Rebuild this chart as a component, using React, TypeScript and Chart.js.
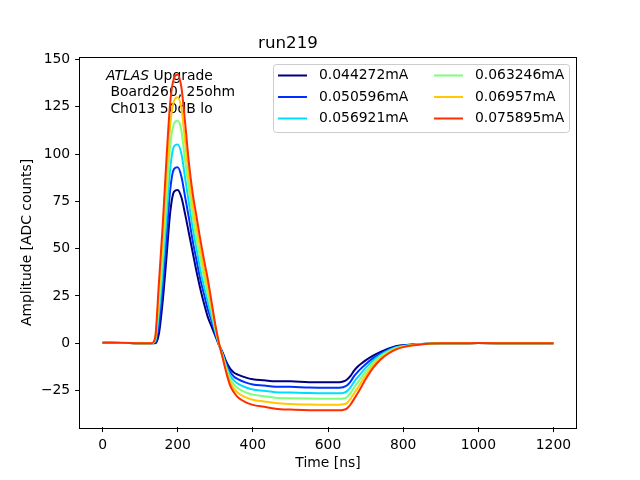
import { useEffect, useRef } from 'react';
import { Chart, registerables } from 'chart.js';
Chart.register(...registerables);

// sample times [ns]
const times = [0, 50, 100, 130, 140, 150, 160, 170, 180, 190, 200, 210, 220, 230, 240, 250, 260, 270, 280, 290, 300, 310, 320, 330, 340, 350, 360, 380, 400, 430, 460, 500, 550, 600, 630, 640, 650, 660, 670, 680, 690, 700, 720, 740, 760, 780, 800, 850, 900, 950, 1000, 1100, 1200];

const currents = ['0.044272mA', '0.050596mA', '0.056921mA', '0.063246mA', '0.06957mA', '0.075895mA'];

const amp044 = [0.3, 0.2, 0, 0, 0, 5, 22, 45, 69, 80, 81, 77, 68, 58, 48, 38, 29, 21, 14, 9, 4, -1, -5, -10, -13.5, -15.5, -16.5, -18, -19, -19.5, -20, -20, -20.5, -20.5, -20.5, -20.2, -19.2, -17.2, -14.3, -12.1, -10.5, -9, -6.5, -4.5, -2.8, -1.5, -1, -0.3, 0, 0, 0.2, 0, 0];
const amp051 = [0.3, 0.2, 0, 0, 0.5, 10, 30, 55, 81, 92, 93, 88, 77, 66, 54, 44, 34, 26, 18, 12, 5, -0.8, -5.6, -11.2, -15.3, -17.6, -18.9, -20.6, -21.7, -22.3, -22.9, -23, -23.3, -23.4, -23.4, -23.2, -22.3, -20.2, -17.2, -14.9, -12.9, -11, -7.8, -5.3, -3.3, -1.9, -1.2, -0.3, 0, 0, 0.2, 0, 0];
const amp057 = [0.3, 0.2, 0, 0, 1, 16, 38, 66, 92, 104, 105, 100, 87, 74, 61, 50, 39, 30, 22, 14, 6.5, -0.6, -6.2, -12.4, -17.1, -19.7, -21.3, -23.2, -24.4, -25.1, -25.8, -26, -26.3, -26.4, -26.4, -26.2, -25.4, -23.2, -20.2, -17.7, -15.3, -13, -9.1, -6.1, -3.9, -2.2, -1.4, -0.4, 0, 0, 0.2, 0, 0];
const amp063 = [0.3, 0.2, 0, 0, 2, 21, 46, 76, 104, 116, 117.5, 112, 96, 81, 67, 55, 45, 35, 26, 17, 7.5, -0.4, -6.8, -13.6, -18.9, -21.8, -23.7, -25.8, -27.1, -27.9, -28.7, -29, -29.2, -29.3, -29.3, -29.2, -28.5, -26.2, -23.2, -20.5, -17.7, -15, -10.4, -6.9, -4.4, -2.6, -1.6, -0.4, 0, 0, 0.2, 0, 0];
const amp070 = [0.3, 0.2, 0, 0, 2.5, 27, 54, 87, 115, 128, 130, 124, 106, 88, 73, 61, 50, 39, 30, 19, 9, -0.2, -7.4, -14.8, -20.7, -23.9, -26.1, -28.4, -29.8, -30.7, -31.5, -32, -32.3, -32.4, -32.4, -32.2, -31.6, -29.3, -26.2, -23.3, -20.1, -17, -11.7, -7.7, -5, -2.9, -1.8, -0.5, 0, 0, 0.2, 0, 0];
const amp076 = [0.3, 0.3, 0, 0, 3, 32, 62, 97, 127, 140, 142, 135, 116, 95, 79, 67, 55, 44, 34, 22, 10, 0, -8, -16, -22.5, -26, -28.5, -31, -32.5, -33.5, -34.5, -35, -35.3, -35.4, -35.4, -35.2, -34.5, -32.3, -29.2, -26, -22.5, -19, -13, -8.5, -5.5, -3.3, -2, -0.5, 0, 0, 0.2, 0, 0];

const series = [amp044, amp051, amp057, amp063, amp070, amp076];
const colors = ['#00007f', '#0030ff', '#00dcfe', '#7dff7a', '#ffc800', '#ff2e00'];

const xTicks = [0, 200, 400, 600, 800, 1000, 1200];
const yTicks = [-25, 0, 25, 50, 75, 100, 125, 150];

const FONT = "'DejaVu Sans', sans-serif";
const FS = 13.9;

const fmt = (v: number) => (v < 0 ? '\u2212' + Math.abs(v) : String(v));

// ATLAS label under the curves
const atlasLabel = {
  id: 'atlasLabel',
  beforeDatasetsDraw(chart: Chart) {
    const ctx = chart.ctx;
    ctx.save();
    ctx.fillStyle = '#000';
    ctx.textBaseline = 'alphabetic';
    ctx.textAlign = 'left';
    ctx.font = `italic ${FS}px ${FONT}`;
    ctx.fillText('ATLAS', 106, 79.5);
    const w = ctx.measureText('ATLAS').width;
    ctx.font = `${FS}px ${FONT}`;
    ctx.fillText(' Upgrade', 106 + w, 79.5);
    ctx.fillText(' Board260, 25ohm', 106, 96.2);
    ctx.fillText(' Ch013 50dB lo', 106, 112.9);
    ctx.restore();
  },
};

// frame + two-column legend like matplotlib
const frameLegend = {
  id: 'frameLegend',
  afterDraw(chart: Chart) {
    const { ctx, chartArea: a } = chart;
    ctx.save();
    ctx.strokeStyle = '#000';
    ctx.lineWidth = 1;
    ctx.strokeRect(Math.round(a.left) - 0.5, Math.round(a.top) - 0.5, Math.round(a.right - a.left) + 1, Math.round(a.bottom - a.top) + 1);

    ctx.beginPath();
    ctx.roundRect(273.5, 64.5, 296, 68, 3);
    ctx.fillStyle = 'rgba(255,255,255,0.8)';
    ctx.fill();
    ctx.strokeStyle = '#cccccc';
    ctx.stroke();

    ctx.font = `${FS}px ${FONT}`;
    ctx.textBaseline = 'middle';
    ctx.textAlign = 'left';
    currents.forEach((lab, i) => {
      const x = i < 3 ? 278 : 434;
      const y = 75.5 + (i % 3) * 21.5;
      ctx.strokeStyle = colors[i];
      ctx.lineWidth = 2;
      ctx.beginPath();
      ctx.moveTo(x, y);
      ctx.lineTo(x + 29, y);
      ctx.stroke();
      ctx.fillStyle = '#000';
      ctx.fillText(lab, x + 41, y);
    });
    ctx.restore();
  },
};

export default function App() {
  const canvasRef = useRef<HTMLCanvasElement>(null);
  const chartRef = useRef<Chart | null>(null);

  useEffect(() => {
    if (!canvasRef.current) return;
    if (chartRef.current) chartRef.current.destroy();

    chartRef.current = new Chart(canvasRef.current, {
      type: 'line',
      data: {
        datasets: series.map((vals, i) => ({
          label: currents[i],
          data: vals.map((v, j) => ({ x: times[j], y: v })),
          borderColor: colors[i],
          backgroundColor: colors[i],
          borderWidth: 2,
          pointRadius: 0,
          cubicInterpolationMode: 'monotone' as const,
          fill: false,
          order: series.length - i,
        })),
      },
      options: {
        responsive: false,
        animation: false,
        devicePixelRatio: 1,
        layout: { padding: { top: 0, right: 64, bottom: 0, left: 0 } },
        plugins: {
          legend: { display: false },
          tooltip: { enabled: false },
          title: {
            display: true,
            text: 'run219',
            color: '#000',
            font: { family: FONT, size: 16.7, weight: 'normal' },
            padding: { top: 34, bottom: 3.6 },
          },
        },
        scales: {
          x: {
            type: 'linear',
            min: -60,
            max: 1260,
            afterBuildTicks: (s: any) => { s.ticks = xTicks.map(v => ({ value: v })); },
            afterFit: (s: any) => { s.height = 52.8; },
            ticks: { color: '#000', font: { family: FONT, size: FS }, padding: 4.9, maxRotation: 0, autoSkip: false, callback: (v: any) => fmt(Number(v)) },
            grid: { display: true, drawOnChartArea: false, drawTicks: true, tickLength: 4.9, color: '#000' },
            border: { display: false },
            title: { display: true, text: 'Time [ns]', color: '#000', font: { family: FONT, size: FS }, padding: { top: 0, bottom: 8.7 } },
          },
          y: {
            type: 'linear',
            min: -44.3,
            max: 150.9,
            afterBuildTicks: (s: any) => { s.ticks = yTicks.map(v => ({ value: v })); },
            afterFit: (s: any) => { s.width = 80; },
            ticks: { color: '#000', font: { family: FONT, size: FS }, padding: 4.9, autoSkip: false, callback: (v: any) => fmt(Number(v)) },
            grid: { display: true, drawOnChartArea: false, drawTicks: true, tickLength: 4.9, color: '#000' },
            border: { display: false },
            title: { display: true, text: 'Amplitude [ADC counts]', color: '#000', font: { family: FONT, size: FS }, padding: { top: 19, bottom: 0 } },
          },
        },
      },
      plugins: [atlasLabel, frameLegend],
    });

    return () => { chartRef.current?.destroy(); };
  }, []);

  return (
    <div style={{ position: 'absolute', left: 0, top: 0, width: 640, height: 480, background: '#fff' }}>
      <canvas ref={canvasRef} width={640} height={480} role="img" aria-label="run219 pulse shapes" />
    </div>
  );
}
